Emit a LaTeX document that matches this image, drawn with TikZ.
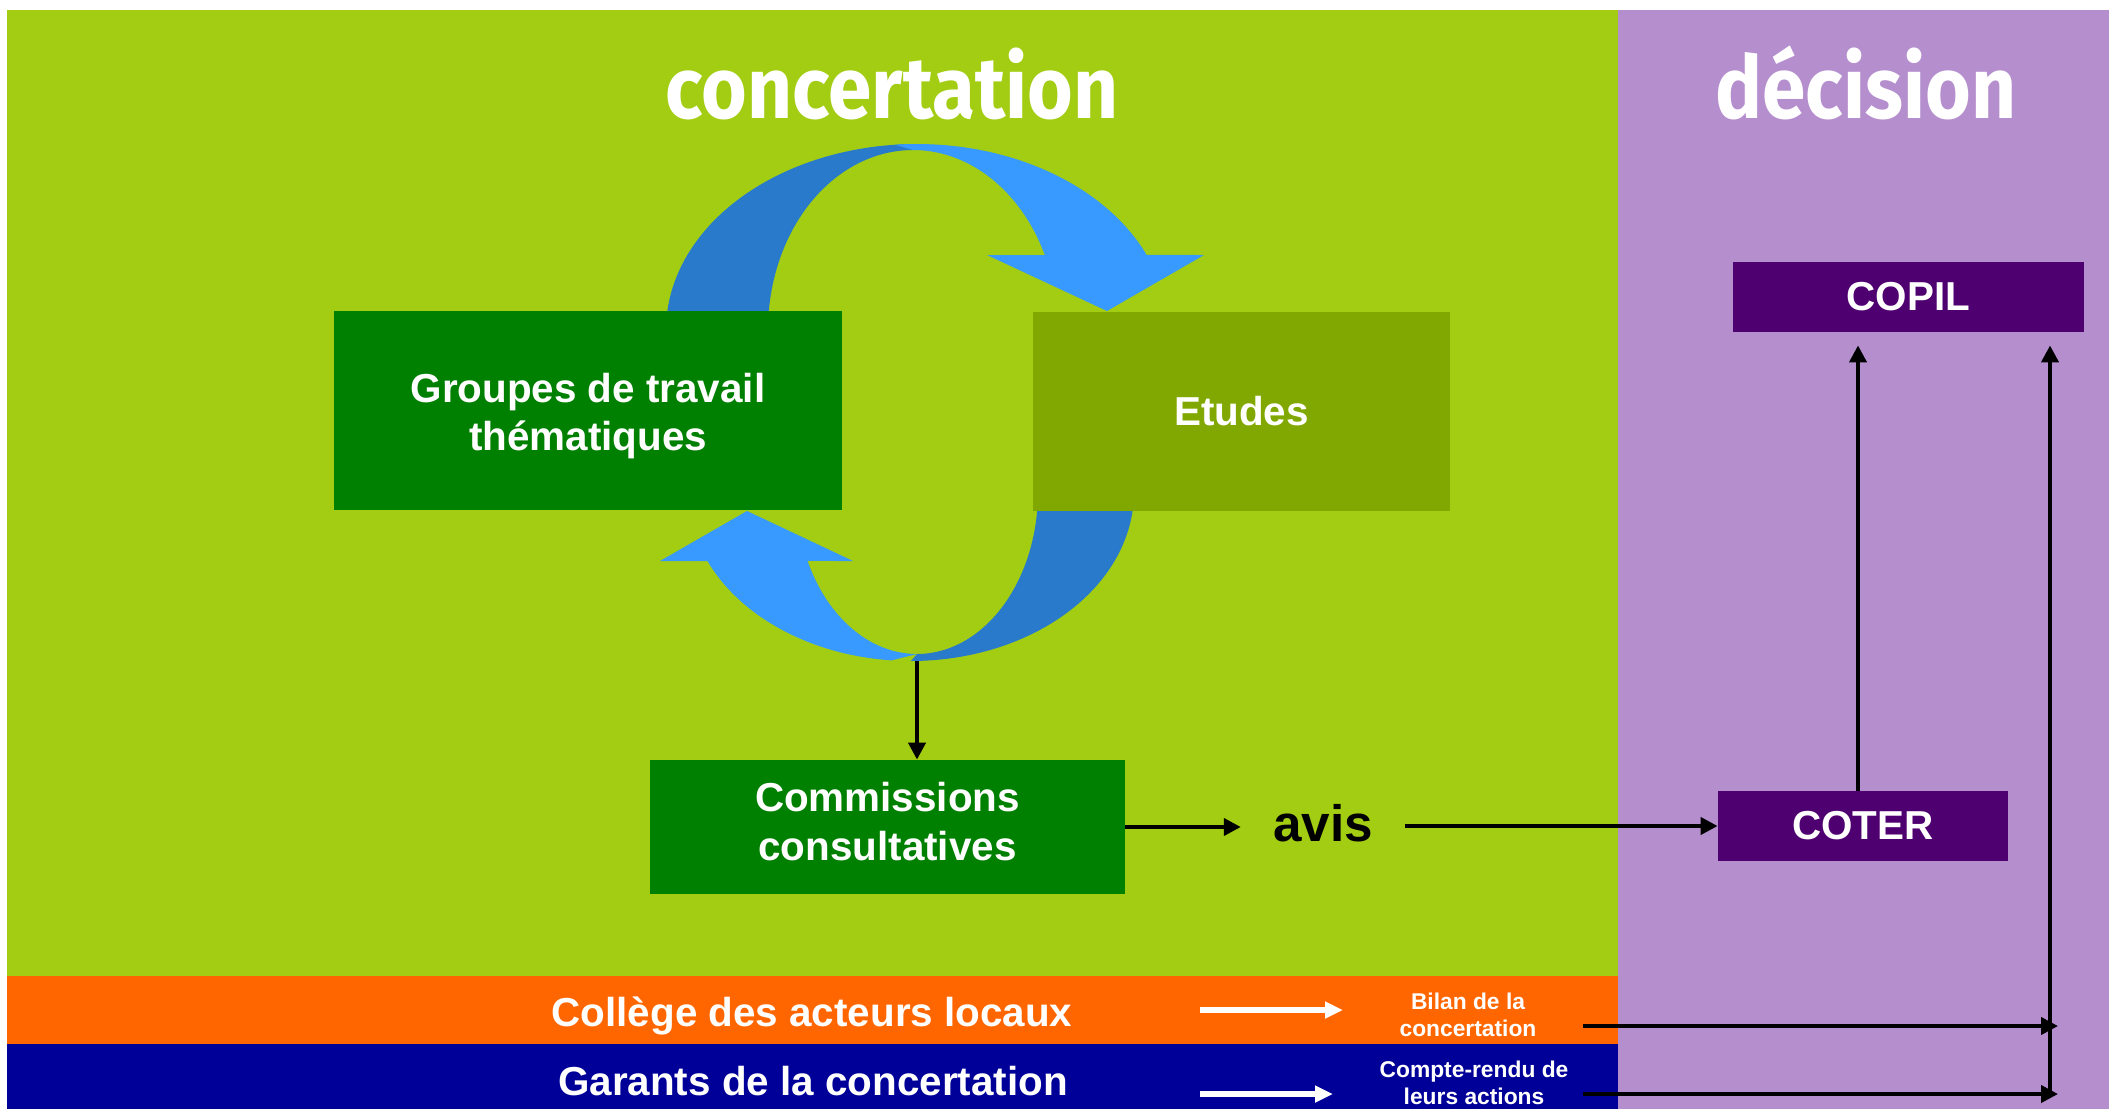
\documentclass[tikz,border=0pt]{standalone}
\usepackage{fontspec}
\setmainfont{Liberation Sans}
\newfontfamily\titlefont{Fira Sans}
\usetikzlibrary{arrows.meta}
\definecolor{bggreen}{RGB}{162,205,18}
\definecolor{bgpurple}{RGB}{181,142,206}
\definecolor{boxgreen}{RGB}{0,128,0}
\definecolor{boxolive}{RGB}{128,168,0}
\definecolor{boxpurple}{RGB}{79,0,112}
\definecolor{bandorange}{RGB}{255,102,0}
\definecolor{bandblue}{RGB}{0,0,153}
\definecolor{arrlight}{RGB}{56,153,255}
\definecolor{arrdark}{RGB}{42,122,204}
\begin{document}
\begin{tikzpicture}[x=0.5pt,y=-0.5pt,
  box/.style={rectangle, fill=#1, text=white, inner sep=0pt, align=center,
    font=\fontsize{20.2}{24.2}\selectfont\bfseries},
  boxtxt/.style={text=white, inner sep=0pt, align=center,
    font=\fontsize{20.2}{24.2}\selectfont\bfseries},
  title/.style={text=white, inner sep=0pt, anchor=base,
    font=\titlefont\fontsize{43.5}{50}\selectfont\bfseries},
  band/.style={text=white, inner sep=0pt, font=\fontsize{20.2}{24.2}\selectfont\bfseries},
  small/.style={text=white, inner sep=0pt, align=center,
    font=\fontsize{11.4}{13.5}\selectfont\bfseries},
  blk/.style={draw=black, line width=2pt, -{Triangle[length=8.5pt,width=8.5pt]}},
  wht/.style={draw=white, line width=2.6pt, -{Triangle[length=9pt,width=8pt]}}
]
\useasboundingbox (0,0) rectangle (2109,1109);
% backgrounds
\fill[white] (0,0) rectangle (2109,1109);
\fill[bggreen] (7,10) rectangle (1618,976);
\fill[bgpurple] (1618,10) rectangle (2109,1109);
\fill[bandorange] (7,976) rectangle (1618,1044);
\fill[bandblue] (7,1044) rectangle (1618,1109);
% titles
\node[title] (tconc) at (892,118) {\scalebox{0.9}[1]{concertation}};
\node[title] (tdec) at (1866,118) {\scalebox{0.9}[1]{décision}};
% cycle arrows
\fill[arrdark] plot[domain=180:270,samples=50,variable=\t] ({917+251*cos(\t)},{330+186*sin(\t)})
  -- plot[domain=270:180,samples=50,variable=\t] ({913+145*cos(\t)},{330+180*sin(\t)}) -- cycle;
\fill[arrlight] plot[domain=265:336.2,samples=50,variable=\t] ({917+251*cos(\t)},{330+186*sin(\t)})
  -- (1204,255) -- (1107,311) -- (987,255)
  -- plot[domain=335.4:270,samples=50,variable=\t] ({913+145*cos(\t)},{330+180*sin(\t)}) -- cycle;
\fill[arrdark] plot[domain=0:90,samples=50,variable=\t] ({911+223*cos(\t)},{492+169*sin(\t)})
  -- plot[domain=90:0,samples=50,variable=\t] ({917+121*cos(\t)},{492+162*sin(\t)}) -- cycle;
\fill[arrlight] plot[domain=95:155.9,samples=50,variable=\t] ({911+223*cos(\t)},{492+169*sin(\t)})
  -- (660,561) -- (747,511) -- (853,561)
  -- plot[domain=154.8:90,samples=50,variable=\t] ({917+121*cos(\t)},{492+162*sin(\t)}) -- cycle;
\coordinate (cyclebot) at (917,661);
% boxes
\node[box=boxgreen, minimum width=254pt, minimum height=99.5pt,
  label={[boxtxt, yshift=-2.7pt]center:{Groupes de travail\\thématiques}}] (gt) at (588,410.5) {};
\node[box=boxolive, minimum width=208.5pt, minimum height=99.5pt] (etu) at (1241.5,411) {Etudes};
\node[box=boxgreen, minimum width=237.5pt, minimum height=67pt,
  label={[boxtxt, yshift=2.7pt]center:{Commissions\\consultatives}}] (comm) at (887.5,827) {};
\node[box=boxpurple, minimum width=145pt, minimum height=35pt] (coter) at (1863,826) {COTER};
\node[box=boxpurple, minimum width=175.5pt, minimum height=35pt] (copil) at (1908.5,297) {COPIL};
\node[inner xsep=16pt, inner ysep=0pt, font=\fontsize{25.6}{30}\selectfont\bfseries] (avis) at (1323,823) {avis};
% bands text
\node[band] (college) at (812,1016) {Collège des acteurs locaux};
\node[band] (garants) at (813,1081) {Garants de la concertation};
\node[small] (bilan) at (1468,1015) {Bilan de la\\concertation};
\node[small] (cr) at (1474,1083) {Compte-rendu de\\leurs actions};
% connectors
\draw[blk] (cyclebot) -- (cyclebot |- comm.north);
\draw[blk] (comm.east) -- (comm.east -| avis.west);
\draw[blk] (avis.east |- coter.west) -- (coter.west);
\coordinate (cotertop) at (1858,791);
\draw[blk, shorten >=6.5pt] (cotertop) -- (cotertop |- copil.south);
\coordinate (junc) at (2050,1094);
\draw[blk, shorten >=6.5pt] (junc) -- (junc |- copil.south);
\coordinate (b1s) at (1583,1026);
\coordinate (b1e) at (2058,1026);
\coordinate (b2s) at (1583,1094);
\coordinate (b2e) at (2058,1094);
\draw[blk] (b1s) -- (b1e);
\draw[blk] (b2s) -- (b2e);
\coordinate (w1s) at (1200,1010);
\coordinate (w1e) at (1343,1010);
\coordinate (w2s) at (1200,1094);
\coordinate (w2e) at (1333,1094);
\draw[wht] (w1s) -- (w1e);
\draw[wht] (w2s) -- (w2e);
\end{tikzpicture}
\end{document}
